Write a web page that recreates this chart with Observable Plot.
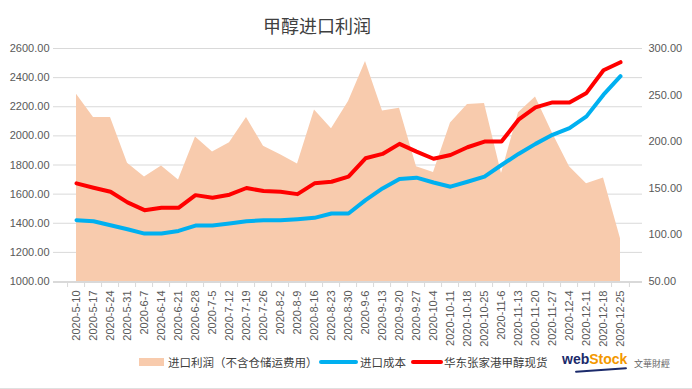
<!DOCTYPE html>
<html>
<head>
<meta charset="utf-8">
<script src="https://cdn.jsdelivr.net/npm/d3@7"></script>
<script src="https://cdn.jsdelivr.net/npm/@observablehq/plot@0.6"></script>
<style>
  body { margin: 0; background: #fff; width: 692px; height: 389px; overflow: hidden; font-family: "Noto Sans CJK SC", "Liberation Sans", sans-serif; }
  #title { height: 38px; width: 634px; text-align: center; font-size: 18px; line-height: 50px; color: #404040; }
  #chart { height: 312px; }
  #legend { position: relative; height: 39px; font-size: 11.5px; color: #404040; border-bottom: 1px solid #e0e0e0; box-sizing: border-box; }
  #legend span { position: absolute; white-space: nowrap; }
</style>
</head>
<body>
<div id="title">甲醇进口利润</div>
<div id="chart"></div>
<div id="legend"></div>
<script>
const dates = ["2020-5-10","2020-5-17","2020-5-24","2020-5-31","2020-6-7","2020-6-14","2020-6-21","2020-6-28","2020-7-5","2020-7-12","2020-7-19","2020-7-26","2020-8-2","2020-8-9","2020-8-16","2020-8-23","2020-8-30","2020-9-6","2020-9-13","2020-9-20","2020-9-27","2020-10-4","2020-10-11","2020-10-18","2020-10-25","2020-11-6","2020-11-13","2020-11-20","2020-11-27","2020-12-4","2020-12-11","2020-12-18","2020-12-25"];
// 进口利润（右轴）
const profit = [251,226,226,177,162,174,159,205,189,199,226,195,186,176,234,214,243,286,233,236,173,167,220,240,241,166,231,248,209,173,155,161,96];
// 进口成本（左轴）
const cost = [1421,1414,1386,1359,1329,1329,1347,1384,1384,1398,1414,1421,1421,1428,1437,1467,1467,1559,1639,1704,1713,1680,1651,1685,1720,1800,1876,1945,2007,2053,2134,2283,2410];
// 华东张家港甲醇现货（左轴）
const spot = [1674,1644,1616,1543,1490,1506,1506,1593,1575,1596,1642,1621,1616,1600,1674,1685,1720,1846,1876,1945,1892,1843,1869,1922,1961,1961,2111,2196,2230,2230,2295,2451,2506];
const leftTicks = [1000,1200,1400,1600,1800,2000,2200,2400,2600];
const rightTicks = [50,100,150,200,250,300];
const legendNames = ["进口利润（不含仓储运费用）","进口成本","华东张家港甲醇现货"];

// right axis (50..300) mapped onto left axis (1000..2600)
const toLeft = r => 1000 + (r - 50) * 1600 / 250;
const fromLeft = l => 50 + (l - 1000) * 250 / 1600;

const rows = dates.map((d, i) => ({date: d, profit: profit[i], cost: cost[i], spot: spot[i]}));
const fmt = d3.format(".2f");
const W = 692, ML = 53, MR = 50;
const half = (W - ML - MR) / dates.length / 2;

const chart = Plot.plot({
  width: W,
  height: 312,
  marginTop: 10,
  marginBottom: 69,
  marginLeft: ML,
  marginRight: MR,
  style: {fontFamily: "'Liberation Sans', 'Noto Sans', sans-serif", fontSize: "11px", color: "#595959", background: "#fff"},
  x: {type: "point", domain: dates, padding: 0.5},
  y: {domain: [1000, 2600]},
  marks: [
    Plot.gridY(leftTicks, {stroke: "#d9d9d9", strokeOpacity: 1}),
    Plot.areaY(rows, {x: "date", y: d => toLeft(d.profit), y1: 1000, fill: "#f8cbad", fillOpacity: 1}),
    Plot.line(rows, {x: "date", y: "cost", stroke: "#00b0f0", strokeWidth: 4}),
    Plot.line(rows, {x: "date", y: "spot", stroke: "#ff0000", strokeWidth: 4}),
    Plot.ruleY([1000], {stroke: "#d9d9d9", dy: 1}),
    Plot.ruleX(dates, {x: d => d, y1: 1000, y2: 1000, insetBottom: -5, dx: -half, dy: 1, stroke: "#d9d9d9"}),
    Plot.ruleX([dates[dates.length - 1]], {x: d => d, y1: 1000, y2: 1000, insetBottom: -5, dx: half, dy: 1, stroke: "#d9d9d9"}),
    Plot.axisY(leftTicks, {anchor: "left", tickSize: 0, tickPadding: 4, tickFormat: fmt, label: null}),
    Plot.axisY(rightTicks.map(toLeft), {anchor: "right", tickSize: 0, tickPadding: 6, tickFormat: v => fmt(fromLeft(v)), label: null}),
    Plot.axisX({tickSize: 0, tickRotate: -90, tickPadding: 9, label: null, fontSize: 11})
  ]
});
document.getElementById("chart").appendChild(chart);

const legend = document.getElementById("legend");
legend.innerHTML = `
  <span style="left:139px;top:8px;width:25px;height:8px;background:#f8cbad"></span>
  <span style="left:168px;top:4px;">${legendNames[0]}</span>
  <span style="left:319px;top:10px;width:39px;height:4px;background:#00b0f0;border-radius:2px"></span>
  <span style="left:360px;top:4px;">${legendNames[1]}</span>
  <span style="left:411px;top:10px;width:32px;height:4px;background:#ff0000;border-radius:2px"></span>
  <span style="left:444px;top:4px;">${legendNames[2]}</span>
  <span style="left:562px;top:1px;font-family:'Liberation Sans',sans-serif;font-weight:bold;font-size:14px;"><span style="position:static;color:#1b2a6b">web</span><span style="position:static;color:#f39800">Stock</span></span>
  <span style="left:575px;top:19px;width:52px;height:2px;background:#1b2a6b;border-radius:2px;transform:rotate(-4deg)"></span>
  <span style="left:634px;top:7px;font-size:9px;color:#666">文華財經</span>
`;
</script>
</body>
</html>
